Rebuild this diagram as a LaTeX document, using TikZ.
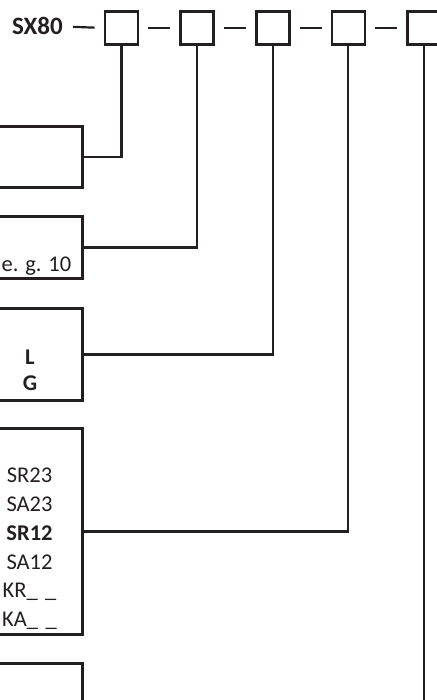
\documentclass[tikz,border=0pt]{standalone}
\usepackage{fontspec}
\setmainfont{Carlito}
\usetikzlibrary{positioning}
\definecolor{ink}{RGB}{35,31,32}
\tikzset{
  codebox/.style={draw=ink, line width=2.6pt, minimum size=33pt, inner sep=0pt},
  infobox/.style={draw=ink, line width=2.6pt, minimum width=300pt, inner sep=0pt, anchor=north east},
  link/.style={draw=ink, line width=2.2pt},
  codetext/.style={inner sep=0pt, text=ink, font=\fontsize{22.5}{28.8}\selectfont},
}

\begin{document}
\begin{tikzpicture}[x=1pt, y=-1pt]
    \useasboundingbox (0,0) rectangle (436,700);

    % Order code
    \node[codetext, anchor=base east, font=\fontsize{25}{28.8}\selectfont\bfseries] (sx) at (63,35) {SX80};
    \node[codebox] (c1) at (121.5,28) {};
    \node[codebox, right=40pt of c1] (c2) {};
    \node[codebox, right=40pt of c2] (c3) {};
    \node[codebox, right=40pt of c3] (c4) {};
    \node[codebox, right=40pt of c4] (c5) {};
    \draw[link, shorten <=10pt, shorten >=9pt] (sx.east) -- (c1.west);
    \foreach \i/\j in {1/2,2/3,3/4,4/5}
        \draw[link, shorten <=9pt, shorten >=9pt] (c\i.east) -- (c\j.west);

    % Option boxes (cut at the left edge)
    \node[infobox, minimum height=61.4pt] (b1) at (84,125) {};
    \node[infobox, minimum height=62.4pt] (b2) at (84,215) {};
    \node[infobox, minimum height=92.4pt] (b3) at (84,307) {};
    \node[infobox, minimum height=206.4pt] (b4) at (84,427) {};
    \node[infobox, minimum height=150pt] (b5) at (84,662) {};

    \node[codetext, anchor=base west] (rating) at (1.5,271) {e. g. 10};
    \node[codetext, align=center, font=\fontsize{22.5}{26}\selectfont\bfseries] (lg) at (30,370) {L\\G};
    \node[codetext, align=center] (variant) at (29.5,549)
        {SR23\\SA23\\\textbf{SR12}\\SA12\\KR\_\,\,\_\\KA\_\,\,\_};

    % Connectors
    \coordinate (foot) at (424,705);
    \draw[link] (c1.south) |- (b1.east);
    \draw[link] (c2.south) |- (b2.east);
    \draw[link] (c3.south) |- (b3.east);
    \draw[link] (c4.south) |- (b4.east);
    \draw[link] (c5.south) -- (c5 |- foot);
\end{tikzpicture}
\end{document}
